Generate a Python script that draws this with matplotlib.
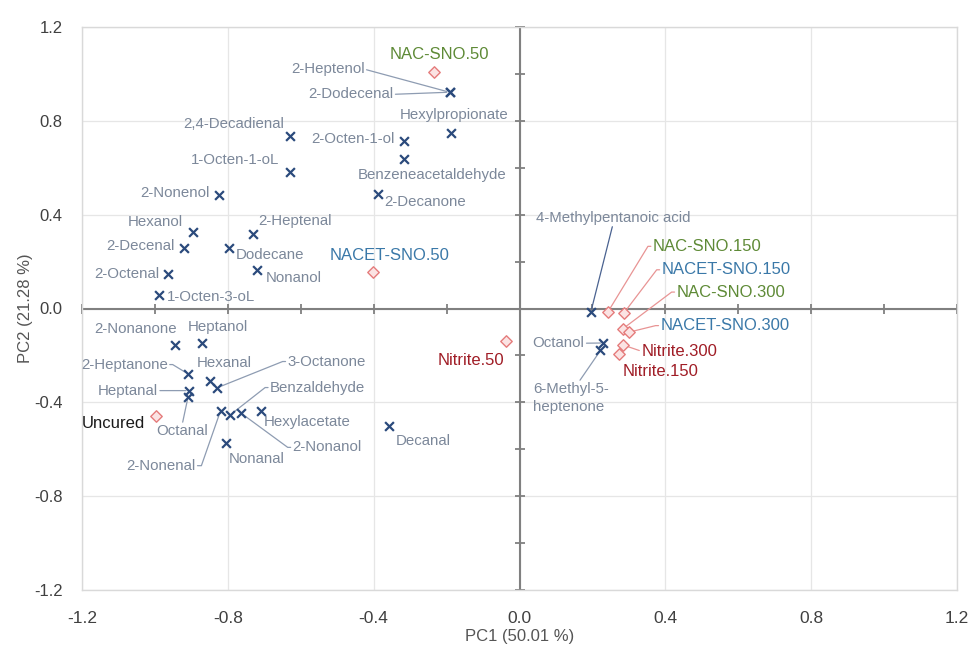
import matplotlib
matplotlib.use("Agg")
import matplotlib.pyplot as plt
import numpy as np

plt.rcParams['font.family'] = ['Liberation Sans', 'DejaVu Sans']

# ---------------- data ----------------
var_names = ["2-Heptenol", "2-Dodecenal", "Hexylpropionate", "2,4-Decadienal", "2-Octen-1-ol",
             "Benzeneacetaldehyde", "1-Octen-1-oL", "2-Nonenol", "2-Decanone", "Hexanol",
             "2-Heptenal", "2-Decenal", "Dodecane", "2-Octenal", "Nonanol", "1-Octen-3-oL",
             "2-Nonanone", "Heptanol", "2-Heptanone", "Hexanal", "3-Octanone", "Heptanal",
             "Benzaldehyde", "Octanal", "2-Nonenal", "2-Nonanol", "Hexylacetate", "Nonanal",
             "Decanal", "4-Methylpentanoic acid", "Octanol", "6-Methyl-5-\nheptenone"]
var_pc1 = [-0.192, -0.192, -0.187, -0.629, -0.318, -0.318, -0.630, -0.823, -0.387, -0.895,
           -0.732, -0.921, -0.798, -0.963, -0.721, -0.990, -0.945, -0.872, -0.909, -0.849,
           -0.831, -0.907, -0.793, -0.909, -0.820, -0.763, -0.710, -0.805, -0.359, 0.196,
           0.230, 0.222]
var_pc2 = [0.922, 0.922, 0.749, 0.736, 0.714, 0.637, 0.583, 0.483, 0.487, 0.325,
           0.319, 0.259, 0.259, 0.145, 0.162, 0.056, -0.155, -0.148, -0.279, -0.308,
           -0.339, -0.350, -0.453, -0.376, -0.436, -0.447, -0.436, -0.574, -0.500, -0.013,
           -0.147, -0.179]

sample_names = ["NAC-SNO.50", "NACET-SNO.50", "Uncured", "Nitrite.50", "NAC-SNO.150",
                "NACET-SNO.150", "NAC-SNO.300", "NACET-SNO.300", "Nitrite.300", "Nitrite.150"]
sample_pc1 = [-0.235, -0.402, -0.998, -0.038, 0.242, 0.286, 0.283, 0.300, 0.283, 0.274]
sample_pc2 = [1.007, 0.157, -0.460, -0.137, -0.016, -0.020, -0.087, -0.101, -0.155, -0.194]
sample_group = ["NAC", "NACET", "Uncured", "Nitrite", "NAC", "NACET", "NAC", "NACET", "Nitrite", "Nitrite"]

tick_values = [-1.2, -0.8, -0.4, 0.0, 0.4, 0.8, 1.2]
tick_labels = ["-1.2", "-0.8", "-0.4", "0.0", "0.4", "0.8", "1.2"]
x_title = "PC1 (50.01 %)"
y_title = "PC2 (21.28 %)"

# ---------------- layout / style ----------------
# label position (data coords), alignment, leader spec: None or (relx, rely, armAngle, armLen)
var_label_layout = {
    "2-Heptenol": (-0.425, 1.020, 'right', (1, 0.5, 0, 0)),
    "2-Dodecenal": (-0.346, 0.913, 'right', (1, 0.5, 0, 0)),
    "Hexylpropionate": (-0.178, 0.823, 'center', None),
    "2,4-Decadienal": (-0.646, 0.785, 'right', None),
    "2-Octen-1-ol": (-0.343, 0.721, 'right', None),
    "Benzeneacetaldehyde": (-0.239, 0.570, 'center', None),
    "1-Octen-1-oL": (-0.658, 0.631, 'right', None),
    "2-Nonenol": (-0.850, 0.491, 'right', None),
    "2-Decanone": (-0.370, 0.453, 'left', None),
    "Hexanol": (-0.923, 0.367, 'right', None),
    "2-Heptenal": (-0.716, 0.371, 'left', None),
    "2-Decenal": (-0.946, 0.265, 'right', None),
    "Dodecane": (-0.779, 0.230, 'left', None),
    "2-Octenal": (-0.987, 0.149, 'right', None),
    "Nonanol": (-0.697, 0.128, 'left', None),
    "1-Octen-3-oL": (-0.967, 0.051, 'left', None),
    "2-Nonanone": (-1.053, -0.087, 'center', None),
    "Heptanol": (-0.827, -0.077, 'center', None),
    "2-Heptanone": (-0.965, -0.239, 'right', (1, 0.5, 0, 5)),
    "Hexanal": (-0.809, -0.232, 'center', None),
    "3-Octanone": (-0.636, -0.226, 'left', (0, 0.5, 180, 5)),
    "Heptanal": (-0.992, -0.350, 'right', (1, 0.5, 0, 0)),
    "Benzaldehyde": (-0.684, -0.337, 'left', (0, 0.5, 180, 5)),
    "Octanal": (-0.925, -0.523, 'center', (0.5, 1, 90, 0)),
    "2-Nonenal": (-0.889, -0.670, 'right', (1, 0.5, 0, 6)),
    "2-Nonanol": (-0.622, -0.592, 'left', (0, 0.5, 180, 5)),
    "Hexylacetate": (-0.702, -0.485, 'left', None),
    "Nonanal": (-0.797, -0.641, 'left', None),
    "Decanal": (-0.340, -0.563, 'left', None),
    "4-Methylpentanoic acid": (0.256, 0.387, 'center', (0.5, 0, 270, 0)),
    "Octanol": (0.178, -0.148, 'right', (1, 0.5, 0, 0)),
    "6-Methyl-5-\nheptenone": (0.038, -0.381, 'left', (0.6, 1, 90, 0)),
}
sample_label_layout = {
    "NAC-SNO.50": (-0.219, 1.084, 'center', None),
    "NACET-SNO.50": (-0.357, 0.226, 'center', None),
    "Uncured": (-1.028, -0.489, 'right', None),
    "Nitrite.50": (-0.041, -0.222, 'right', None),
    "NAC-SNO.150": (0.366, 0.265, 'left', (0, 0.5, 180, 5)),
    "NACET-SNO.150": (0.390, 0.165, 'left', (0, 0.5, 180, 5)),
    "NAC-SNO.300": (0.431, 0.070, 'left', (0, 0.5, 180, 5)),
    "NACET-SNO.300": (0.387, -0.073, 'left', (0, 0.5, 180, 5)),
    "Nitrite.300": (0.334, -0.182, 'left', (0, 0.5, 180, 0)),
    "Nitrite.150": (0.282, -0.267, 'left', None),
}
group_colors = {"NAC": "#5E8A36", "NACET": "#3A78A8", "Uncured": "#1A1A1A", "Nitrite": "#A01D26"}

var_marker_color = "#2B4A7C"
var_text_color = "#7C889A"
var_line_color = "#8E9CB2"
acid_line_color = "#4A6290"
sample_line_color = "#E89494"
diamond_edge = "#E57C7C"
diamond_face = "#FBE3E3"
tick_color = "#404040"
title_color = "#555555"

fig = plt.figure(figsize=(9.72, 6.54), dpi=100)
ax = fig.add_axes([82 / 972, 1 - 590 / 654, (957 - 82) / 972, (590 - 27) / 654])

ax.set_xlim(-1.2, 1.2)
ax.set_ylim(-1.2, 1.2)
ax.set_xticks(tick_values)
ax.set_yticks(tick_values)
ax.set_xticklabels(tick_labels, fontsize=12.5, color=tick_color)
ax.set_yticklabels(tick_labels, fontsize=12, color=tick_color)
ax.tick_params(length=0)
ax.tick_params(axis='x', pad=15)
ax.tick_params(axis='y', pad=14)
ax.grid(True, color="#E6E6E6", lw=0.9)
ax.set_axisbelow(True)
for s in ax.spines.values():
    s.set_color("#D9D9D9")
    s.set_linewidth(1.0)

# central axes with crossing ticks
ax.axhline(0, color="#808080", lw=1.5, zorder=1)
ax.axvline(0, color="#808080", lw=1.5, zorder=1)
minor = np.round(np.arange(-1.2, 1.2001, 0.2), 2)
ax.plot(minor, np.zeros_like(minor), ls='none', marker='|', ms=7, mew=1.3, color="#808080",
        zorder=1, clip_on=False)
ax.plot(np.zeros_like(minor), minor, ls='none', marker='_', ms=7, mew=1.3, color="#808080",
        zorder=1, clip_on=False)

ax.set_xlabel(x_title, fontsize=12, color=title_color)
ax.set_ylabel(y_title, fontsize=12, color=title_color)
ax.xaxis.set_label_coords(0.5, -0.070)
ax.yaxis.set_label_coords(-0.056, 0.5)


def place(name, x, y, layout, fontsize, tcolor, lcolor, shrinkB):
    lx, ly, ha, spec = layout
    if spec is None:
        ax.text(lx, ly, name, ha=ha, va='center', fontsize=fontsize, color=tcolor,
                linespacing=1.35, zorder=3)
        return
    rx, ry, ang, arm = spec
    if arm > 0:
        cs = "arc,angleA=%g,armA=%g,angleB=0,armB=0,rad=0" % (ang, arm)
    else:
        cs = "arc3,rad=0"
    ax.annotate(name, xy=(x, y), xytext=(lx, ly), ha=ha, va='center', fontsize=fontsize,
                color=tcolor, linespacing=1.35, zorder=3,
                arrowprops=dict(arrowstyle='-', color=lcolor, lw=0.9, relpos=(rx, ry),
                                connectionstyle=cs, shrinkA=1.5, shrinkB=shrinkB,
                                patchA=None))


# variables
ax.scatter(var_pc1, var_pc2, marker='x', s=40, linewidths=1.6, color=var_marker_color, zorder=4)
for name, x, y in zip(var_names, var_pc1, var_pc2):
    lc = acid_line_color if name == "4-Methylpentanoic acid" else var_line_color
    place(name, x, y, var_label_layout[name], 10.8, var_text_color, lc, 2)

# samples
ax.scatter(sample_pc1, sample_pc2, marker='D', s=34, linewidths=1.0, facecolor=diamond_face,
           edgecolor=diamond_edge, zorder=4)
for name, x, y, g in zip(sample_names, sample_pc1, sample_pc2, sample_group):
    place(name, x, y, sample_label_layout[name], 12, group_colors[g], sample_line_color, 3)

fig.savefig("out.png", dpi=100)
